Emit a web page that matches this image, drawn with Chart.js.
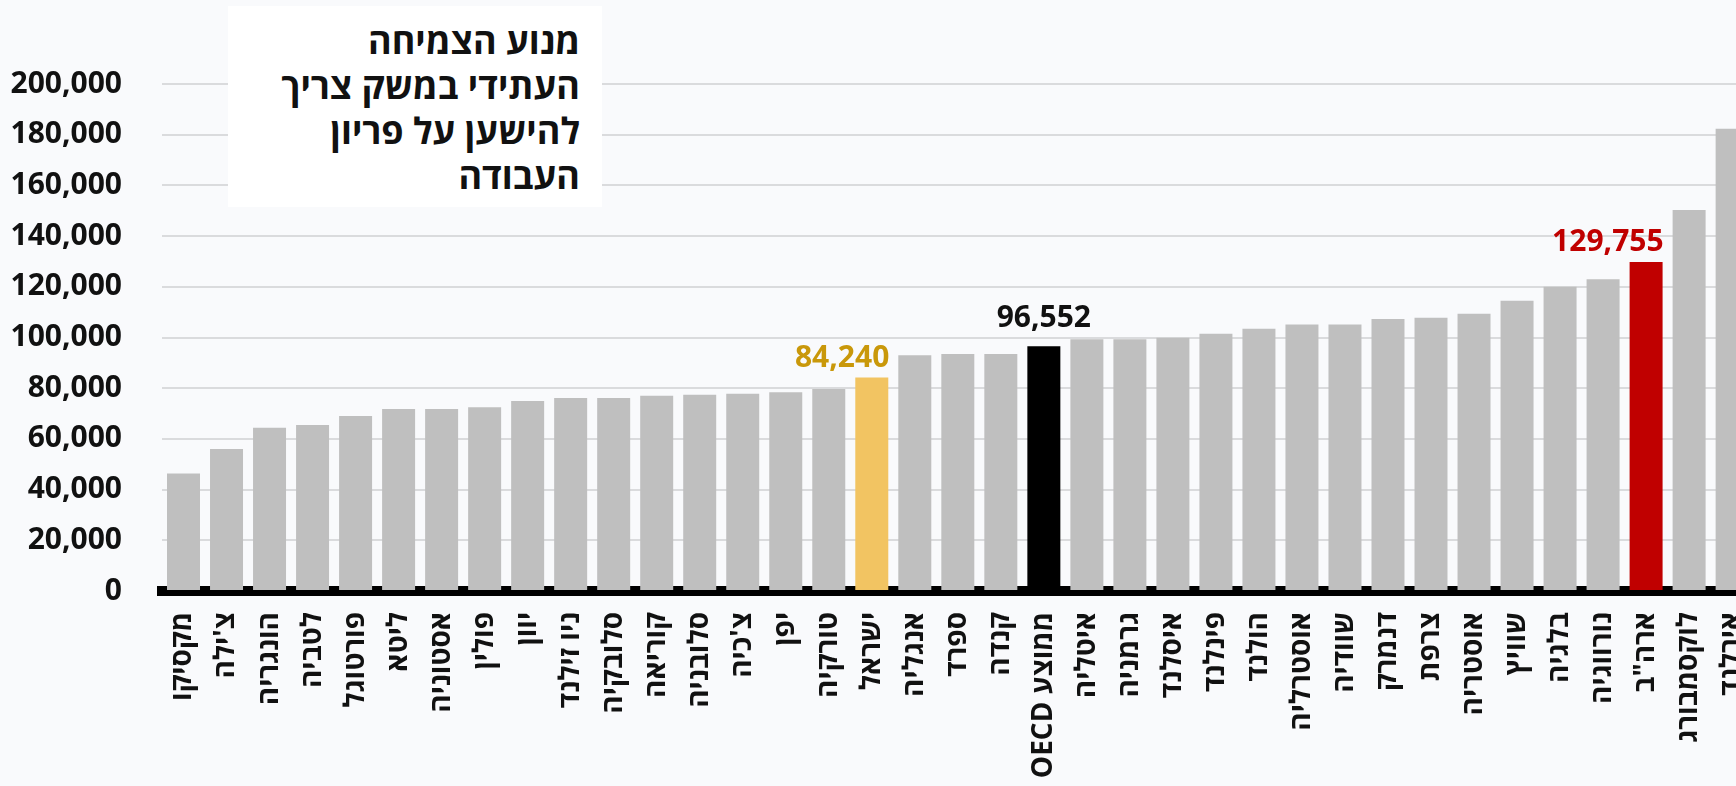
<!DOCTYPE html>
<html lang="he">
<head>
<meta charset="utf-8">
<title>פריון העבודה</title>
<script src="https://cdn.jsdelivr.net/npm/chart.js@4.4.1/dist/chart.umd.min.js"></script>
<style>
  html, body { margin: 0; padding: 0; background: #f9fafc; overflow: hidden; }
  #wrap { position: relative; width: 1787px; height: 786px; }
  #titulo {
    position: absolute; left: 228px; top: 6px; width: 374px; height: 201px;
    background: #fff; box-sizing: border-box; padding: 12px 22px 0 0;
    direction: rtl; text-align: right; color: #111;
    font: bold 36px/45px "Open Sans", "DejaVu Sans", sans-serif;
  }
</style>
</head>
<body>
<div id="wrap">
  <canvas id="grafico" dir="rtl"></canvas>
  <div id="titulo">מנוע הצמיחה<br>העתידי במשק צריך<br>להישען על פריון<br>העבודה</div>
</div>
<script>
// תוצר לשעת עבודה - מדינות OECD
const paises = ['מקסיקו', "צ'ילה", 'הונגריה', 'לטביה', 'פורטוגל', 'ליטא', 'אסטוניה', 'פולין', 'יוון', 'ניו זילנד',
  'סלובקיה', 'קוריאה', 'סלובניה', "צ'כיה", 'יפן', 'טורקיה', 'ישראל', 'אנגליה', 'ספרד', 'קנדה',
  'ממוצע OECD', 'איטליה', 'גרמניה', 'איסלנד', 'פינלנד', 'הולנד', 'אוסטרליה', 'שוודיה', 'דנמרק', 'צרפת',
  'אוסטריה', 'שוויץ', 'בלגיה', 'נורווגיה', 'ארה"ב', 'לוקסמבורג', 'אירלנד'];

const valores = [46400, 56000, 64400, 65500, 69000, 71800, 71800, 72500, 75000, 76100,
  76100, 77000, 77400, 77800, 78400, 79700, 84240, 93000, 93500, 93500,
  96552, 99300, 99300, 99900, 101500, 103500, 105100, 105100, 107300, 107800,
  109400, 114500, 120000, 123000, 129755, 150300, 182300];

const ticksY = [0, 20000, 40000, 60000, 80000, 100000, 120000, 140000, 160000, 180000, 200000];

const corPadrao = '#bfbfbf';
const destaques = [
  { pais: 'ישראל', cor: '#f2c462', corTexto: '#c9980a', alinha: 'right', gap: 10 },
  { pais: 'ממוצע OECD', cor: '#000000', corTexto: '#111111', alinha: 'center', gap: 19 },
  { pais: 'ארה"ב', cor: '#c00000', corTexto: '#c00000', alinha: 'right', gap: 11 }
];

const fonte = '"Open Sans", "DejaVu Sans", sans-serif';
Chart.defaults.font.family = fonte;
Chart.defaults.color = '#111';

const cores = paises.map(p => {
  const d = destaques.find(x => x.pais === p);
  return d ? d.cor : corPadrao;
});

const fmt = v => Number(v).toLocaleString('en-US');

const etiquetasValor = {
  id: 'etiquetasValor',
  afterDatasetsDraw(chart) {
    const ctx = chart.ctx;
    const meta = chart.getDatasetMeta(0);
    ctx.save();
    ctx.font = 'bold 30px ' + fonte;
    ctx.textBaseline = 'alphabetic';
    destaques.forEach(d => {
      const i = paises.indexOf(d.pais);
      const bar = meta.data[i];
      const x = d.alinha === 'right' ? bar.x + bar.width / 2 + 1 : bar.x;
      ctx.fillStyle = d.corTexto;
      ctx.textAlign = d.alinha;
      ctx.fillText(fmt(valores[i]), x, bar.y - d.gap);
    });
    ctx.restore();
  }
};

new Chart(document.getElementById('grafico'), {
  type: 'bar',
  data: {
    labels: paises,
    datasets: [{
      data: valores,
      backgroundColor: cores,
      borderWidth: 0,
      categoryPercentage: 1,
      barPercentage: 0.767
    }]
  },
  options: {
    responsive: true,
    maintainAspectRatio: false,
    animation: false,
    layout: { padding: { top: 84, right: 20, left: 0, bottom: 0 } },
    plugins: { legend: { display: false }, tooltip: { enabled: false } },
    scales: {
      x: {
        z: 1,
        grid: { display: false, drawTicks: false },
        border: { display: true, color: '#000', width: 10 },
        ticks: {
          autoSkip: false, minRotation: 90, maxRotation: 90, padding: 21,
          color: '#111', font: { size: 28, weight: 'bold' }
        },
        afterFit: s => { s.height = 195; }
      },
      y: {
        min: 0, max: 200000,
        afterBuildTicks: s => { s.ticks = ticksY.map(v => ({ value: v })); },
        grid: { color: '#dadbdd', lineWidth: 2, drawTicks: false },
        border: { display: false },
        ticks: {
          padding: 40, color: '#111', font: { size: 30, weight: 'bold' },
          callback: v => fmt(v)
        },
        afterFit: s => { s.width = 162; }
      }
    }
  },
  plugins: [etiquetasValor]
});
</script>
</body>
</html>
